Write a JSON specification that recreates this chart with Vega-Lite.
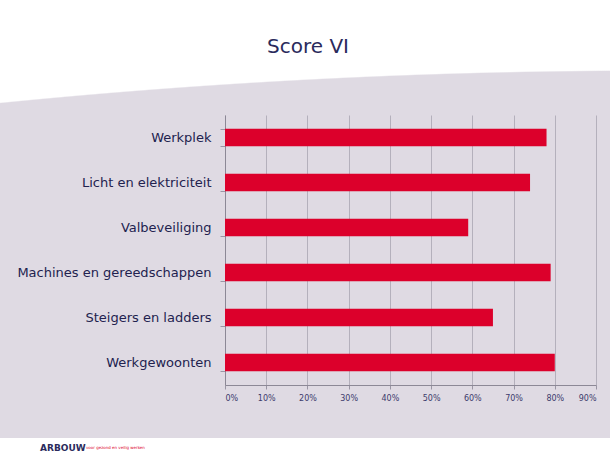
{
  "$schema": "https://vega.github.io/schema/vega-lite/v6.json",
  "background": "#dfdae3",
  "padding": 0,
  "spacing": 0,
  "config": {"view": {"stroke": null}, "font": "DejaVu Sans"},
  "datasets": {
    "scores": [
      {"categorie": "Werkplek", "score": 78},
      {"categorie": "Licht en elektriciteit", "score": 74},
      {"categorie": "Valbeveiliging", "score": 59},
      {"categorie": "Machines en gereedschappen", "score": 79},
      {"categorie": "Steigers en ladders", "score": 65},
      {"categorie": "Werkgewoonten", "score": 80}
    ]
  },
  "vconcat": [
    {
      "width": 610,
      "height": 115,
      "view": {
        "stroke": null,
        "fill": {
          "gradient": "radial",
          "x1": 1.06557, "y1": 11.2697, "r1": 0,
          "x2": 1.06557, "y2": 11.2697, "r2": 10.7492,
          "stops": [
            {"offset": 0, "color": "#dfdae3"},
            {"offset": 0.9998, "color": "#dfdae3"},
            {"offset": 1, "color": "#ffffff"}
          ]
        }
      },
      "data": {"values": [{"title": "Score VI"}]},
      "mark": {"type": "text", "fontSize": 20, "color": "#2a2a5c", "font": "DejaVu Sans", "baseline": "middle", "dy": -11, "dx": 3},
      "encoding": {"text": {"field": "title"}}
    },
    {
      "spacing": 8,
      "hconcat": [
        {
          "width": 211,
          "height": 270,
          "data": {"name": "scores"},
          "mark": {"type": "point", "opacity": 0},
          "encoding": {
            "y": {
              "field": "categorie", "type": "nominal", "sort": null,
              "scale": {"paddingInner": 0.615, "paddingOuter": 0.3075},
              "axis": {
                "orient": "right", "title": null, "domain": false, "ticks": false,
                "labelAlign": "right", "labelPadding": 0, "labelFontSize": 13,
                "labelColor": "#22224f", "labelLimit": 230, "grid": false
              }
            }
          }
        },
        {
          "width": 371,
          "height": 270,
          "data": {"name": "scores"},
          "mark": {"type": "bar", "color": "#dc002b"},
          "encoding": {
            "y": {
              "field": "categorie", "type": "nominal", "sort": null,
              "scale": {"paddingInner": 0.615, "paddingOuter": 0.3075},
              "axis": {
                "title": null, "labels": false, "tickBand": "extent", "tickSize": 5,
                "tickColor": "#9a96a4", "domainColor": "#8c8896", "grid": false
              }
            },
            "x": {
              "field": "score", "type": "quantitative",
              "scale": {"domain": [0, 90], "nice": false},
              "axis": {
                "title": null, "values": [0, 10, 20, 30, 40, 50, 60, 70, 80, 90],
                "labelExpr": "datum.value + '%'", "labelFontSize": 8, "labelColor": "#3c3a6c",
                "tickSize": 4, "tickColor": "#9a96a4", "domainColor": "#8c8896",
                "gridColor": "#b4b0bc", "gridOpacity": 1, "labelPadding": 5,
                "minExtent": 53, "maxExtent": 53
              }
            }
          }
        }
      ]
    },
    {
      "width": 610,
      "height": 21,
      "view": {"stroke": null, "fill": "#ffffff"},
      "data": {"values": [{"merk": "ARBOUW", "slogan": "voor gezond en veilig werken"}]},
      "layer": [
        {
          "mark": {"type": "text", "fontSize": 9, "fontWeight": "bold", "color": "#2a2a5c", "align": "left", "baseline": "middle", "dx": -265, "dy": -1},
          "encoding": {"text": {"field": "merk"}}
        },
        {
          "mark": {"type": "text", "fontSize": 4, "color": "#dc002b", "align": "left", "baseline": "middle", "dx": -219, "dy": -1},
          "encoding": {"text": {"field": "slogan"}}
        }
      ]
    }
  ]
}
